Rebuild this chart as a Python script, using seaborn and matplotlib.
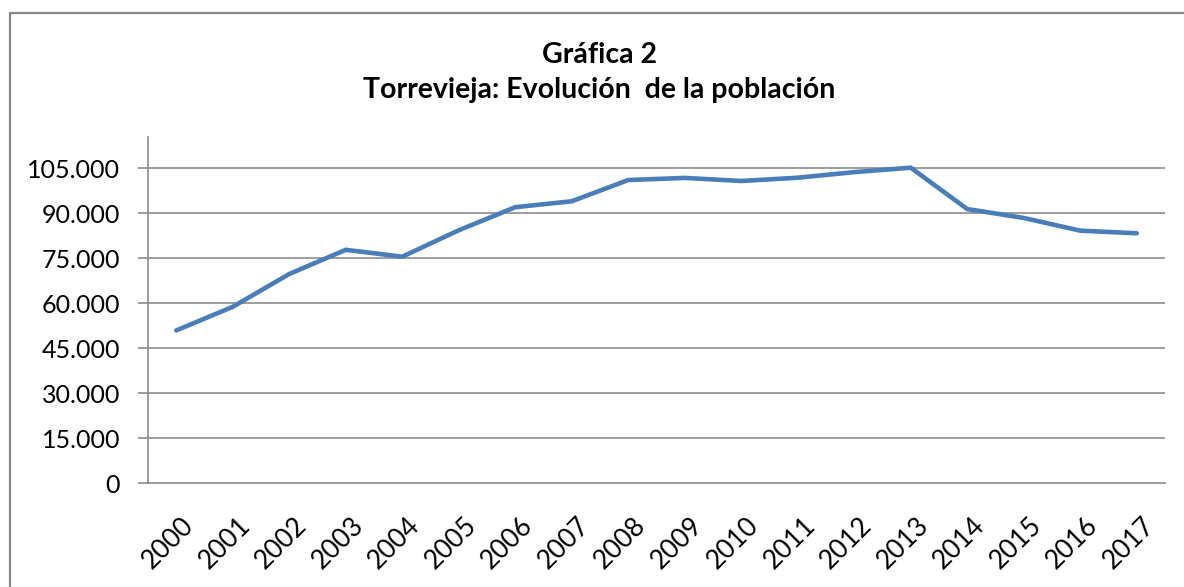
import matplotlib
matplotlib.use("Agg")
import matplotlib.pyplot as plt
import matplotlib.ticker as mticker
import matplotlib.patches as mpatches
import matplotlib.transforms as mtrans
import seaborn as sns
import pandas as pd

years = [str(y) for y in range(2000, 2018)]
population = [50953, 58828, 69763, 77831, 75530, 84348, 92034, 94006, 101091,
              101792, 100772, 101860, 103720, 105205, 91415, 88447, 84213, 83337]
y_ticks = [0, 15000, 30000, 45000, 60000, 75000, 90000, 105000]
title_line1 = "Gráfica 2"
title_line2 = "Torrevieja: Evolución  de la población"

sns.set_theme(style="white")
plt.rcParams['font.family'] = ['Lato', 'DejaVu Sans']

W, H = 1184, 587
fig = plt.figure(figsize=(W / 100, H / 100), dpi=100)
fig.patch.set_facecolor("white")

left, right, bottom_px, top_px = 148, 1165, 483.3, 137
ax = fig.add_axes([left / W, 1 - bottom_px / H, (right - left) / W, (bottom_px - top_px) / H])

df = pd.DataFrame({"year": years, "pop": population})
sns.lineplot(data=df, x="year", y="pop", ax=ax, color="#4A7EBB", linewidth=3.3,
             sort=False, solid_capstyle="round", solid_joinstyle="miter")

grid_c = "#8C8C8C"
ax.set_xlim(-0.5, len(years) - 0.5)
ax.set_ylim(0, 115433)
ax.set_yticks(y_ticks)
ax.yaxis.set_major_formatter(mticker.FuncFormatter(lambda v, p: f"{int(v):,}".replace(",", ".")))
ax.grid(False)
for yv in y_ticks[1:]:
    ax.axhline(yv, color=grid_c, lw=1.2, zorder=0)

ax.set_xticks(range(len(years)))
ax.set_xticklabels(years, rotation=45, ha="right", va="top", rotation_mode="anchor")
ax.set_xticks([i - 0.5 for i in range(len(years) + 1)], minor=True)
ax.tick_params(axis="x", which="major", length=0, pad=21, labelsize=19, labelcolor="black")
ax.tick_params(axis="x", which="minor", length=6, width=1.2, color=grid_c, direction="out")
ax.tick_params(axis="y", which="major", length=7, width=1.2, color=grid_c, direction="out",
               pad=13, labelsize=18, labelcolor="black", left=True)
offset = mtrans.ScaledTranslation(5 / 100, 0, fig.dpi_scale_trans)
for lab in ax.get_xticklabels():
    lab.set_transform(lab.get_transform() + offset)

ax.set_xlabel("")
ax.set_ylabel("")
for s in ["top", "right"]:
    ax.spines[s].set_visible(False)
for s in ["left", "bottom"]:
    ax.spines[s].set_color(grid_c)
    ax.spines[s].set_linewidth(1.2)

fig.text(600 / W, 1 - 63 / H, title_line1, ha="center", va="baseline",
         fontsize=20.5, fontweight="bold", color="black")
fig.text(599 / W, 1 - 98 / H, title_line2, ha="center", va="baseline",
         fontsize=20.5, fontweight="bold", color="black")

frame = mpatches.Rectangle((9.5 / W, -0.2), 2.0, 1.2 - 12.5 / H, transform=fig.transFigure,
                           fill=False, edgecolor="#878787", linewidth=1.6)
fig.patches.append(frame)

fig.savefig("out.png", dpi=100)
